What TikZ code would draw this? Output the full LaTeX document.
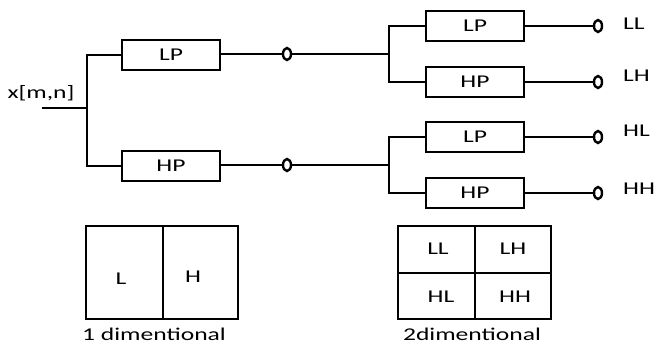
\documentclass[tikz,border=0pt]{standalone}
\usepackage{fontspec}
\setmainfont{Carlito}[FakeStretch=1.42]
\usetikzlibrary{shapes.geometric}
\begin{document}
\begin{tikzpicture}[x=1pt,y=-1pt,
  every node/.style={font=\fontsize{18}{21}\selectfont},
  wire/.style={line width=2pt},
  filt/.style={draw, line width=2.2pt, minimum width=98pt, minimum height=30pt, inner sep=0pt},
  term/.style={ellipse, draw, fill=white, line width=2.4pt, minimum width=8pt, minimum height=12pt, inner sep=0pt},
  lbl/.style={anchor=west, inner sep=0pt},
  grid/.style={line width=2.2pt}]
\useasboundingbox (0,0) rectangle (656,346);
% stage 1
\coordinate (in) at (42,108);
\coordinate (t1) at (87,108);
\node[anchor=south, inner sep=0pt] (xin) at (41,101) {x[m,n]};
\node[filt] (lp1) at (171,55) {LP};
\node[filt] (hp1) at (171,166) {HP};
\draw[wire] (in) -- (t1);
\draw[wire] (t1) |- (lp1.west);
\draw[wire] (t1) |- (hp1.west);
\node[term] (c1) at (287,54) {};
\node[term] (c2) at (287,165) {};
\draw[wire] (lp1.east |- c1) -- (c1);
\draw[wire] (hp1.east |- c2) -- (c2);
% stage 2
\node[filt] (lp2a) at (475,26) {LP};
\node[filt] (hp2a) at (475,82) {HP};
\node[filt] (lp2b) at (475,137) {LP};
\node[filt] (hp2b) at (475,193) {HP};
\coordinate (t2) at (389,54);
\coordinate (t3) at (389,165);
\draw[wire] (c1) -- (t2);
\draw[wire] (c2) -- (t3);
\draw[wire] (lp2a.west) -| (t2) |- (hp2a.west);
\draw[wire] (lp2b.west) -| (t3) |- (hp2b.west);
\node[term] (o1) at (598,26) {};
\node[term] (o2) at (598,82) {};
\node[term] (o3) at (598,137) {};
\node[term] (o4) at (598,193) {};
\draw[wire] (lp2a) -- (o1);
\draw[wire] (hp2a) -- (o2);
\draw[wire] (lp2b) -- (o3);
\draw[wire] (hp2b) -- (o4);
\node[lbl] (ll) at (623,24) {LL};
\node[lbl] (lh) at (623,76) {LH};
\node[lbl] (hl) at (623,131) {HL};
\node[lbl] (hh) at (623,189) {HH};
% 1D box
\draw[grid] (86,226) rectangle (238,319);
\draw[grid] (163,226) -- (163,319);
\node (l1) at (121,279) {L};
\node (h1) at (193,277) {H};
\node (cap1) at (154,334) {1 dimentional};
% 2D box
\draw[grid] (398,226) rectangle (551,319);
\draw[grid] (475,226) -- (475,319);
\draw[grid] (398,273) -- (551,273);
\node (sll) at (438,249) {LL};
\node (slh) at (513,249) {LH};
\node (shl) at (441,297) {HL};
\node (shh) at (515,297) {HH};
\node (cap2) at (472,334) {2dimentional};
\end{tikzpicture}
\end{document}
